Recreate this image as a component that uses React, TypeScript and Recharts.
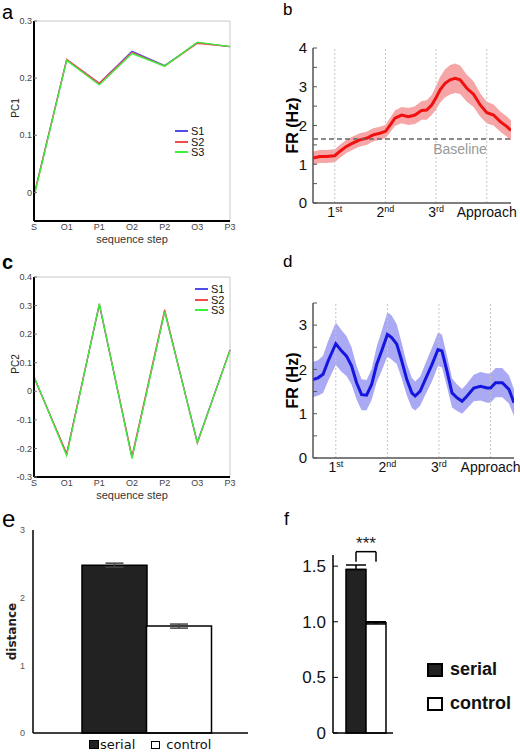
import React from "react";
import {
  LineChart,
  Line,
  XAxis,
  YAxis,
  ReferenceLine,
  Label,
  ComposedChart,
  Area,
  BarChart,
  Bar,
  Cell,
  ErrorBar,
} from "recharts";

const FONT = '"Liberation Sans", Arial, Helvetica, sans-serif';

// a / c: PCA projections per sequence step
const STEPS = ["S", "O1", "P1", "O2", "P2", "O3", "P3"];
const SEQ_NAMES = ["S1", "S2", "S3"];
const SEQ_COLORS = ["#4e4ee6", "#f24a4a", "#3cf03c"];
const PC1_S1 = [-0.005, 0.232, 0.191, 0.247, 0.222, 0.262, 0.255];
const PC1_S2 = [-0.005, 0.233, 0.191, 0.245, 0.221, 0.261, 0.255];
const PC1_S3 = [-0.008, 0.231, 0.188, 0.243, 0.221, 0.263, 0.255];
const PC2_S1 = [0.05, -0.22, 0.303, -0.232, 0.28, -0.178, 0.145];
const PC2_S2 = [0.048, -0.218, 0.305, -0.228, 0.286, -0.182, 0.145];
const PC2_S3 = [0.052, -0.226, 0.308, -0.236, 0.279, -0.18, 0.143];
const PC1_TICKS = [0, 0.1, 0.2, 0.3];
const PC2_TICKS = [-0.3, -0.2, -0.1, 0, 0.1, 0.2, 0.3, 0.4];

// b / d: firing rate around events
const EVENT_T = [1, 2, 3, 4];
const EVENT_MAIN = ["1", "2", "3", "Approach"];
const EVENT_SUP = ["st", "nd", "rd", ""];

const B_T = [0.571, 0.703, 0.835, 1.0, 1.099, 1.231, 1.363, 1.495, 1.627, 1.759, 1.891, 2.003, 2.089, 2.188, 2.32, 2.452, 2.584, 2.716, 2.815, 2.914, 2.993, 3.079, 3.178, 3.277, 3.376, 3.475, 3.607, 3.739, 3.871, 4.003, 4.135, 4.267, 4.399, 4.479];
const B_FR = [1.16, 1.2, 1.2, 1.22, 1.33, 1.46, 1.55, 1.63, 1.67, 1.76, 1.8, 1.85, 2.0, 2.19, 2.27, 2.23, 2.27, 2.39, 2.4, 2.53, 2.7, 2.92, 3.09, 3.18, 3.22, 3.18, 2.96, 2.81, 2.53, 2.33, 2.27, 2.1, 1.97, 1.87];
const B_SEM = [0.17, 0.17, 0.17, 0.17, 0.17, 0.17, 0.17, 0.17, 0.17, 0.17, 0.17, 0.17, 0.19, 0.2, 0.21, 0.22, 0.23, 0.24, 0.25, 0.26, 0.3, 0.33, 0.36, 0.38, 0.38, 0.37, 0.35, 0.33, 0.3, 0.28, 0.27, 0.26, 0.26, 0.26];
const B_BASELINE = 1.65;
const B_YTICKS = [0, 0.5, 1, 1.5, 2, 2.5, 3, 3.5, 4];

const D_T = [0.558, 0.656, 0.753, 0.851, 1.0, 1.11, 1.208, 1.305, 1.403, 1.5, 1.597, 1.695, 1.792, 1.89, 2.0, 2.084, 2.182, 2.279, 2.377, 2.474, 2.539, 2.636, 2.734, 2.864, 2.981, 3.058, 3.156, 3.253, 3.351, 3.448, 3.545, 3.675, 3.805, 3.935, 4.0, 4.097, 4.227, 4.357, 4.455];
const D_FR = [1.77, 1.81, 1.89, 2.19, 2.58, 2.42, 2.3, 2.08, 1.7, 1.43, 1.42, 1.66, 2.11, 2.42, 2.79, 2.72, 2.57, 2.19, 1.77, 1.47, 1.4, 1.51, 1.77, 2.11, 2.45, 2.42, 1.96, 1.47, 1.36, 1.28, 1.4, 1.58, 1.62, 1.58, 1.58, 1.7, 1.7, 1.55, 1.25];
const D_SEM = [0.4, 0.4, 0.42, 0.45, 0.48, 0.47, 0.45, 0.42, 0.38, 0.35, 0.34, 0.35, 0.4, 0.45, 0.5, 0.5, 0.45, 0.4, 0.36, 0.34, 0.33, 0.33, 0.35, 0.38, 0.38, 0.37, 0.35, 0.33, 0.3, 0.28, 0.28, 0.3, 0.32, 0.33, 0.33, 0.33, 0.33, 0.32, 0.3];
const D_YTICKS = [0, 0.5, 1, 1.5, 2, 2.5, 3, 3.5];

// e / f: serial vs control
const GROUPS = ["serial", "control"];
const GROUP_FILL = ["#222222", "#ffffff"];
const E_DIST = [2.48, 1.58];
const E_ERR = [0.03, 0.03];
const E_TICKS = [0, 1, 2, 3];
const F_VAL = [1.47, 0.99];
const F_ERR = [
  [0, 0.04],
  [0.01, 0.01],
];
const F_TICKS = [0, 0.5, 1, 1.5];

const pc1Rows = STEPS.map((s, i) => ({ step: s, S1: PC1_S1[i], S2: PC1_S2[i], S3: PC1_S3[i] }));
const pc2Rows = STEPS.map((s, i) => ({ step: s, S1: PC2_S1[i], S2: PC2_S2[i], S3: PC2_S3[i] }));
const bRows = B_T.map((t, i) => ({ t, v: B_FR[i], band: [B_FR[i] - B_SEM[i], B_FR[i] + B_SEM[i]] }));
const dRows = D_T.map((t, i) => ({ t, v: D_FR[i], band: [D_FR[i] - D_SEM[i], D_FR[i] + D_SEM[i]] }));
const eRows = GROUPS.map((g, i) => ({ g, v: E_DIST[i], err: E_ERR[i] }));
const fRows = GROUPS.map((g, i) => ({ g, v: F_VAL[i], err: F_ERR[i] }));

type TickOpts = {
  gap: number;
  len: number;
  size: number;
  color: string;
  lineColor: string;
  fmt: (v: number) => string;
};

// y tick with the tick mark pointing into the plot
function inTick(o: TickOpts) {
  return (p: any) => {
    const ax = p.x + o.gap;
    return (
      <g>
        <line x1={ax} x2={ax + o.len} y1={p.y} y2={p.y} stroke={o.lineColor} strokeWidth={1} />
        <text x={p.x} y={p.y} dy="0.35em" textAnchor="end" fontSize={o.size} fill={o.color}>
          {o.fmt(p.payload.value)}
        </text>
      </g>
    );
  };
}

function EventTick(p: any) {
  const i = EVENT_T.indexOf(p.payload.value);
  return (
    <text x={p.x} y={p.y} dy="0.71em" textAnchor="middle" fontSize={14} fill="#111">
      {EVENT_MAIN[i]}
      <tspan dy={-5} fontSize={9}>
        {EVENT_SUP[i]}
      </tspan>
    </text>
  );
}

function LineKey({ left, top }: { left: number; top: number }) {
  return (
    <div style={{ position: "absolute", left, top, fontSize: 11, lineHeight: "10.5px", color: "#111" }}>
      {SEQ_NAMES.map((n, i) => (
        <div key={n} style={{ display: "flex", alignItems: "center", height: 10.5 }}>
          <span style={{ width: 13, height: 2, background: SEQ_COLORS[i], marginRight: 3 }} />
          {n}
        </div>
      ))}
    </div>
  );
}

function PcPanel({ rows, ticks, domain, label, top, height, mTop }: any) {
  return (
    <div style={{ position: "absolute", left: 0, top }}>
      <LineChart width={240} height={height} data={rows} margin={{ top: mTop, right: 10, bottom: 0, left: 0 }}>
        <XAxis
          dataKey="step"
          scale="point"
          padding={{ left: 0, right: 0 }}
          tickLine={false}
          tickSize={0}
          tickMargin={3}
          tick={{ fontSize: 9, fill: "#444" }}
          axisLine={{ stroke: "#000", strokeWidth: 2 }}
          height={height - mTop - 200}
        >
          <Label value="sequence step" position="insideBottom" offset={height - mTop - 200 - 22} fontSize={11} fill="#333" />
        </XAxis>
        <YAxis
          type="number"
          domain={domain}
          ticks={ticks}
          interval={0}
          width={34}
          tickLine={false}
          tickSize={0}
          tickMargin={2}
          axisLine={{ stroke: "#000", strokeWidth: 2 }}
          tick={inTick({ gap: 2, len: 3, size: 9, color: "#444", lineColor: "#777", fmt: (v) => String(Math.round(v * 10) / 10) })}
          allowDataOverflow
        >
          <Label value={label} angle={-90} position="insideLeft" offset={15} dy={-13} fontSize={10} fill="#222" style={{ textAnchor: "middle" }} />
        </YAxis>
        <ReferenceLine y={domain[1]} stroke="#c8c8c8" />
        <ReferenceLine x="P3" stroke="#c8c8c8" />
        {SEQ_NAMES.map((n, i) => (
          <Line key={n} dataKey={n} stroke={SEQ_COLORS[i]} strokeWidth={1.3} dot={false} isAnimationActive={false} />
        ))}
      </LineChart>
    </div>
  );
}

function FrPanel({ rows, top, height, mTop, right, ymax, yticks, line, band, baseline }: any) {
  return (
    <div style={{ position: "absolute", left: 260, top }}>
      <ComposedChart width={260} height={height} data={rows} margin={{ top: mTop, right, bottom: 0, left: 0 }}>
        <XAxis
          dataKey="t"
          type="number"
          domain={[rows[0].t, rows[rows.length - 1].t]}
          ticks={EVENT_T}
          interval={0}
          tickLine={false}
          tickSize={0}
          tickMargin={4}
          tick={EventTick}
          axisLine={{ stroke: "#555", strokeWidth: 1.5 }}
          height={height - mTop - 155}
          allowDataOverflow
        />
        <YAxis
          type="number"
          domain={[0, ymax]}
          ticks={yticks}
          interval={0}
          width={53}
          tickLine={false}
          tickSize={0}
          tickMargin={6}
          axisLine={{ stroke: "#555", strokeWidth: 1.5 }}
          tick={inTick({ gap: 6, len: 4, size: 15, color: "#111", lineColor: "#555", fmt: (v) => (Number.isInteger(v) ? String(v) : "") })}
        >
          <Label value="FR (Hz)" angle={-90} position="insideLeft" offset={32} fontSize={16} fontWeight="bold" fill="#000" style={{ textAnchor: "middle" }} />
        </YAxis>
        {EVENT_T.map((t) => (
          <ReferenceLine key={t} x={t} stroke="#c4c4c4" strokeDasharray="2 2" />
        ))}
        <Area dataKey="band" stroke="none" fill={band} fillOpacity={1} isAnimationActive={false} />
        <Line dataKey="v" stroke={line} strokeWidth={3} dot={false} isAnimationActive={false} />
        {baseline !== undefined && (
          <ReferenceLine y={baseline} stroke="#666" strokeDasharray="5 3" strokeWidth={1.5}>
            <Label value="Baseline" position="bottom" offset={5} dx={48} fontSize={14} fill="#999" />
          </ReferenceLine>
        )}
      </ComposedChart>
    </div>
  );
}

function BarKey({ left, top, gap, size, box, bold }: any) {
  return (
    <div style={{ position: "absolute", left, top, fontSize: size, fontWeight: bold ? "bold" : "normal", color: "#111" }}>
      {GROUPS.map((g, i) => (
        <div key={g} style={{ display: "flex", alignItems: "center", marginBottom: gap }}>
          <span
            style={{
              width: box[0],
              height: box[1],
              background: GROUP_FILL[i],
              border: "2px solid #000",
              boxSizing: "border-box",
              marginRight: 7,
            }}
          />
          {g}
        </div>
      ))}
    </div>
  );
}

export default function App() {
  return (
    <div style={{ position: "absolute", left: 0, top: 0, width: 520, height: 756, background: "#fff", fontFamily: FONT }}>
      <div style={{ position: "absolute", left: 2, top: 2, fontSize: 20, lineHeight: "20px" }}>a</div>
      <div style={{ position: "absolute", left: 283, top: 0, fontSize: 17 }}>b</div>
      <div style={{ position: "absolute", left: 2, top: 251, fontSize: 20, fontWeight: "bold" }}>c</div>
      <div style={{ position: "absolute", left: 283, top: 252, fontSize: 17 }}>d</div>
      <div style={{ position: "absolute", left: 2, top: 505, fontSize: 24 }}>e</div>
      <div style={{ position: "absolute", left: 284, top: 509, fontSize: 18 }}>f</div>

      <PcPanel rows={pc1Rows} ticks={PC1_TICKS} domain={[-0.05, 0.3]} label="PC1" top={0} height={250} mTop={21} />
      <LineKey left={175} top={126} />

      <PcPanel rows={pc2Rows} ticks={PC2_TICKS} domain={[-0.3, 0.4]} label="PC2" top={250} height={260} mTop={27} />
      <LineKey left={195} top={284} />

      <FrPanel rows={bRows} top={0} height={250} mTop={48} right={9} ymax={4} yticks={B_YTICKS} line="#f01010" band="#f6a6a6" baseline={B_BASELINE} />

      <FrPanel rows={dRows} top={250} height={260} mTop={53} right={6} ymax={3.5} yticks={D_YTICKS} line="#1515e0" band="#aaaaf4" />

      <div style={{ position: "absolute", left: 0, top: 510 }}>
        <BarChart width={260} height={246} data={eRows} margin={{ top: 20, right: 12, bottom: 0, left: 0 }} barCategoryGap={0}>
          <XAxis dataKey="g" tick={false} tickLine={false} axisLine={{ stroke: "#000", strokeWidth: 1.5 }} height={23} padding={{ left: 49, right: 37 }} />
          <YAxis
            type="number"
            domain={[0, 3]}
            ticks={E_TICKS}
            interval={0}
            width={33}
            tickLine={false}
            tickSize={0}
            tickMargin={8}
            tick={{ fontSize: 9, fill: "#555" }}
            axisLine={{ stroke: "#000", strokeWidth: 1.5 }}
          >
            <Label value="distance" angle={-90} position="insideLeft" offset={12} fontSize={12} fontWeight="bold" fill="#222" style={{ textAnchor: "middle", fontFamily: '"DejaVu Sans", sans-serif' }} />
          </YAxis>
          <Bar dataKey="v" stroke="#000" strokeWidth={1.5} isAnimationActive={false}>
            {eRows.map((r, i) => (
              <Cell key={r.g} fill={GROUP_FILL[i]} />
            ))}
            <ErrorBar dataKey="err" width={9} stroke="#444" strokeWidth={1.5} />
          </Bar>
        </BarChart>
      </div>
      <div style={{ position: "absolute", left: 89, top: 737, display: "flex", alignItems: "center", fontSize: 13, fontFamily: '"DejaVu Sans", sans-serif', color: "#111" }}>
        <span style={{ width: 10, height: 9, background: "#222", border: "1px solid #000", boxSizing: "border-box", marginRight: 1 }} />
        <span style={{ marginRight: 16 }}>serial</span>
        <span style={{ width: 9, height: 8, background: "#fff", border: "1.5px solid #000", boxSizing: "border-box", marginRight: 6 }} />
        <span>control</span>
      </div>

      <div style={{ position: "absolute", left: 260, top: 510 }}>
        <BarChart width={150} height={246} data={fRows} margin={{ top: 45, right: 17, bottom: 0, left: 0 }} barCategoryGap={0}>
          <XAxis dataKey="g" tick={false} tickLine={false} axisLine={{ stroke: "#000", strokeWidth: 1.5 }} height={23} padding={{ left: 13, right: 7 }} />
          <YAxis
            type="number"
            domain={[0, 1.6]}
            ticks={F_TICKS}
            interval={0}
            width={73}
            tickLine={false}
            tickSize={0}
            tickMargin={7}
            axisLine={{ stroke: "#000", strokeWidth: 1.5 }}
            tick={inTick({ gap: 7, len: 5, size: 17, color: "#111", lineColor: "#000", fmt: (v) => (v === 0 ? "0" : v.toFixed(1)) })}
          />
          <Bar dataKey="v" stroke="#000" strokeWidth={1.5} isAnimationActive={false}>
            {fRows.map((r, i) => (
              <Cell key={r.g} fill={GROUP_FILL[i]} />
            ))}
            <ErrorBar dataKey="err" width={10} stroke="#000" strokeWidth={1.5} />
          </Bar>
          <ReferenceLine
            segment={[{ x: "serial", y: 1.63 }, { x: "control", y: 1.63 }]}
            position="middle"
            stroke="#000"
            strokeWidth={1.5}
            ifOverflow="visible"
          >
            <Label value="***" position="top" offset={3} fontSize={17} fill="#222" />
          </ReferenceLine>
          <ReferenceLine segment={[{ x: "serial", y: 1.54 }, { x: "serial", y: 1.63 }]} position="middle" stroke="#000" strokeWidth={1.5} ifOverflow="visible" />
          <ReferenceLine segment={[{ x: "control", y: 1.54 }, { x: "control", y: 1.63 }]} position="middle" stroke="#000" strokeWidth={1.5} ifOverflow="visible" />
        </BarChart>
      </div>
      <BarKey left={427} top={659} gap={13} size={18} box={[16, 14]} bold />
    </div>
  );
}
